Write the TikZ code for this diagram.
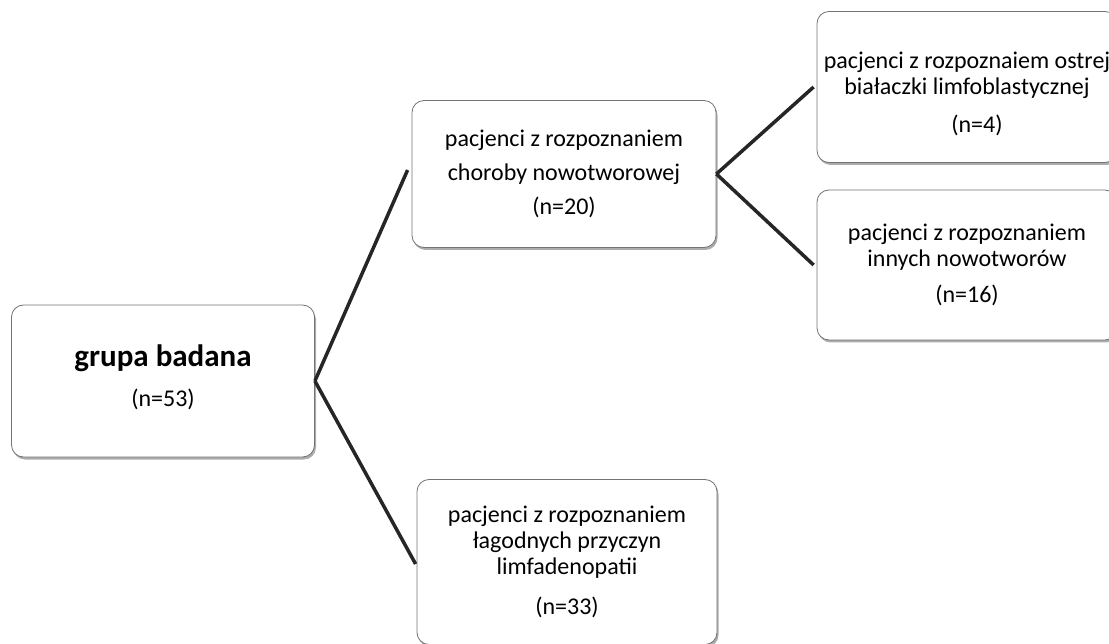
\documentclass[tikz,border=0pt]{standalone}
\usepackage{fontspec}
\setmainfont{Carlito}
\usepackage{xcolor}
\usetikzlibrary{positioning, shadows}

\begin{document}
\begin{tikzpicture}[x=1pt, y=-1pt, font=\fontsize{24}{26}\selectfont,
  box/.style={draw=black!55, line width=0.8pt, fill=white, rounded corners=12pt, align=center,
    inner sep=0pt, drop shadow={shadow xshift=1.5pt, shadow yshift=-2.5pt, fill=black!50, opacity=0.65}},
  branch/.style={line width=3.5pt, black!85}]
\useasboundingbox (0,0) rectangle (1109,644);

% study group
\node[box, minimum width=303pt, minimum height=152pt] (root) at (163,381)
  {{\fontsize{31}{34}\selectfont\bfseries grupa badana}\\[14pt] (n=53)\\[-16pt]\mbox{}};

% cancer patients
\node[box, minimum width=304pt, minimum height=147pt] (cancer) at (564,174)
  {pacjenci z rozpoznaniem\\[8pt] choroby nowotworowej\\[8pt] (n=20)};

% benign causes
\node[box, minimum width=300pt, minimum height=165pt] (benign) at (567,562)
  {pacjenci z rozpoznaniem\\ łagodnych przyczyn\\ limfadenopatii\\[14pt] (n=33)};

% ALL
\node[box, minimum width=300pt, minimum height=151pt] (all) at (967,87)
  {\rule{0pt}{30pt}pacjenci z rozpoznaiem ostrej\\ białaczki limfoblastycznej\\[12pt] \hspace*{20pt}(n=4)};

% other cancers
\node[box, minimum width=300pt, minimum height=150pt] (other) at (967,265)
  {pacjenci z rozpoznaniem\\ innych nowotworów\\[10pt] (n=16)};

% connectors
\draw[branch] (root.east) -- ([xshift=-4pt, yshift=4pt]cancer.west);
\draw[branch] (root.east) -- ([xshift=-1pt, yshift=-2pt]benign.west);
\draw[branch] (cancer.east) -- ([xshift=-3pt]all.west);
\draw[branch] (cancer.east) -- ([xshift=-3pt]other.west);
\end{tikzpicture}
\end{document}
